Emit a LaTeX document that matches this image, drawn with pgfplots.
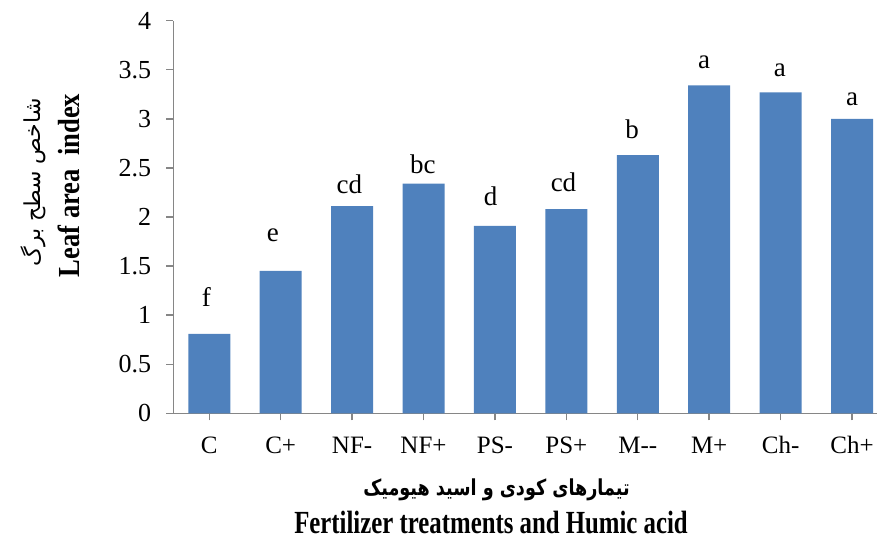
\documentclass[border=0pt]{standalone}
\usepackage{pgfplots}
\pgfplotsset{compat=1.18}
\usepackage{pgfplotstable}
\usepackage{fontspec}
\usepackage{graphicx}
\setmainfont{Liberation Serif}
\newfontfamily\fa[Script=Arabic]{DejaVu Sans}
\TeXXeTstate=1

\definecolor{barblue}{RGB}{79,129,189}
\definecolor{axgray}{RGB}{134,134,134}

% leaf area index per treatment
\pgfplotstableread{
x y
0 0.81
1 1.45
2 2.11
3 2.34
4 1.91
5 2.08
6 2.63
7 3.34
8 3.27
9 3.00
}\lai

% significance letters, at the height where they stand
\pgfplotstableread{
x y lab
-0.04 1.086 f
0.89 1.748 e
1.96 2.241 cd
2.99 2.445 bc
3.94 2.115 d
4.96 2.258 cd
5.92 2.795 b
6.93 3.515 a
7.99 3.43 a
9.00 3.14 a
}\letters

\begin{document}
\begin{tikzpicture}
\useasboundingbox (-86.65pt,-64.85pt) rectangle (351.85pt,206.65pt);
\begin{axis}[
  at={(0,0)}, anchor=south west,
  scale only axis, width=351.85pt, height=196.3pt,
  xmin=-0.504, xmax=9.35, ymin=0, ymax=4,
  axis lines*=left,
  axis line style={draw=axgray, line width=0.7pt},
  tick style={draw=axgray, line width=0.7pt},
  tick align=outside, major tick length=3.5pt,
  xtick={0,1,2,3,4,5,6,7,8,9},
  xticklabels={C,C+,NF-,NF+,PS-,PS+,M{-}{-},M+,Ch-,Ch+},
  ytick={0,0.5,1,1.5,2,2.5,3,3.5,4},
  /pgf/number format/assume math mode=true,
  yticklabel style={font=\fontsize{13}{15}\selectfont, anchor=east, inner sep=0pt, xshift=-7.4pt},
  xticklabel style={font=\fontsize{12.5}{15}\selectfont, anchor=base, inner sep=0pt, yshift=-16.5pt},
  clip=false,
]
\addplot[ybar, bar width=21pt, fill=barblue, draw=none] table[x=x,y=y]{\lai};
\addplot[draw=none, mark=none, nodes near coords, point meta=explicit symbolic,
  every node near coord/.style={anchor=base, inner sep=0pt, font=\fontsize{13.5}{16}\selectfont}]
  table[x=x,y=y,meta=lab]{\letters};
\end{axis}
\node[rotate=90, anchor=base] at (-46.65pt,113.9pt)
  {\fontsize{13.3}{16}\selectfont\scalebox{1}[1.15]{\bfseries Leaf area\ \ index}};
\node[rotate=90, anchor=base] at (-66.5pt,115.4pt)
  {\fontsize{11}{14}\selectfont\fa\beginR شاخص سطح برگ\endR};
\node[anchor=base] at (161.6pt,-41.3pt)
  {\fontsize{8.8}{12}\selectfont\fa\bfseries\scalebox{1}[1.25]{\beginR تیمارهای کودی و اسید هیومیک\endR}};
\node[anchor=base] at (158.85pt,-59.85pt)
  {\fontsize{12.4}{15}\selectfont\scalebox{1}[1.3]{\bfseries Fertilizer treatments and Humic acid}};
\end{tikzpicture}
\end{document}
